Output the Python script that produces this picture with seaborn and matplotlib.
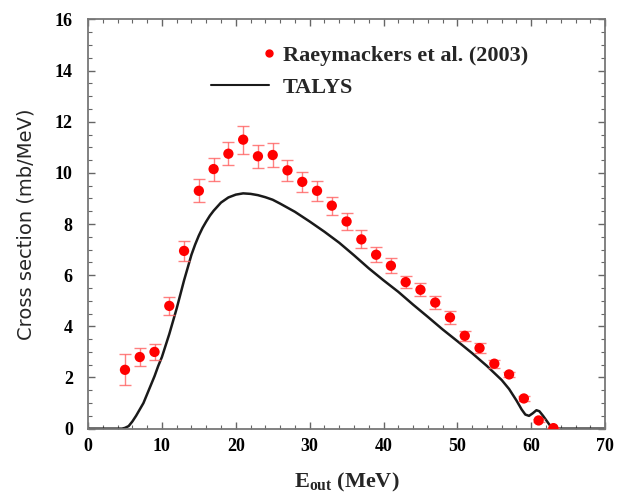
import numpy as np
import pandas as pd
import matplotlib
matplotlib.use("Agg")
import matplotlib.pyplot as plt
import seaborn as sns
from matplotlib.lines import Line2D
from matplotlib.ticker import MultipleLocator

# Experimental data (Raeymackers et al. 2003)
exp_x = [5, 7, 9, 11, 13, 15, 17, 19, 21, 23, 25, 27, 29, 31, 33, 35, 37, 39, 41, 43,
         45, 47, 49, 51, 53, 55, 57, 59, 61, 63]
exp_y = [2.3, 2.8, 3.0, 4.8, 6.95, 9.3, 10.15, 10.75, 11.3, 10.65, 10.7, 10.1, 9.65, 9.3,
         8.72, 8.1, 7.4, 6.8, 6.37, 5.73, 5.43, 4.93, 4.35, 3.63, 3.15, 2.54, 2.12, 1.18, 0.32, 0.02]
exp_err = [0.6, 0.35, 0.3, 0.35, 0.4, 0.45, 0.45, 0.45, 0.55, 0.45, 0.45, 0.4, 0.4, 0.4,
           0.35, 0.35, 0.35, 0.3, 0.3, 0.25, 0.25, 0.25, 0.25, 0.2, 0.2, 0.15, 0.1, 0.1, 0.05, 0.0]

# TALYS calculation
talys_x = [0, 4.6, 5.0, 5.5, 6.0, 6.5, 7.0, 7.5, 8.0, 8.5, 9.0, 9.5, 10.0, 10.5, 11.0, 11.5,
           12.0, 12.5, 13.0, 13.5, 14.0, 14.5, 15.0, 15.5, 16.0, 16.5, 17.0, 18.0, 19.0, 20.0,
           21.0, 22.0, 23.0, 24.0, 25.0, 26.0, 28.0, 30.0, 32.0, 34.0, 36.0, 38.0, 40.0, 42.0,
           44.0, 46.0, 48.0, 50.0, 52.0, 54.0, 56.0, 57.0, 58.0, 58.7, 59.2, 59.7, 60.2, 60.7,
           61.1, 61.6, 62.1, 62.6, 63.0, 70.0]
talys_y = [0, 0, 0.03, 0.1, 0.28, 0.5, 0.75, 1.0, 1.35, 1.7, 2.05, 2.45, 2.8, 3.25, 3.7, 4.2,
           4.7, 5.25, 5.8, 6.3, 6.8, 7.2, 7.55, 7.85, 8.1, 8.33, 8.52, 8.84, 9.04, 9.15,
           9.2, 9.18, 9.13, 9.05, 8.95, 8.8, 8.48, 8.1, 7.7, 7.27, 6.78, 6.27, 5.8, 5.35,
           4.85, 4.37, 3.88, 3.42, 2.95, 2.45, 1.9, 1.55, 1.1, 0.75, 0.55, 0.5, 0.6, 0.72,
           0.68, 0.5, 0.3, 0.1, 0.0, 0.0]

x_ticks = [0, 10, 20, 30, 40, 50, 60, 70]
y_ticks = [0, 2, 4, 6, 8, 10, 12, 14, 16]

sns.set_theme(style="ticks")
plt.rcParams["font.family"] = ["Liberation Serif", "DejaVu Serif"]
plt.rcParams["mathtext.fontset"] = "custom"
plt.rcParams["mathtext.rm"] = "Liberation Serif"
plt.rcParams["mathtext.bf"] = "Liberation Serif:bold"

fig = plt.figure(figsize=(6.2, 4.99), dpi=100)
ax = fig.add_axes([0.142, 0.141, 0.834, 0.82])

df_t = pd.DataFrame({"x": talys_x, "y": talys_y})
df_e = pd.DataFrame({"x": exp_x, "y": exp_y, "e": exp_err})

sns.lineplot(data=df_t, x="x", y="y", ax=ax, color="#1a1a1a", lw=1.8, sort=False,
             estimator=None, label="_nolegend_")
ax.errorbar(df_e["x"], df_e["y"], yerr=df_e["e"], fmt="none", ecolor="#ff6060",
            elinewidth=1.0, capsize=4, capthick=1.0, alpha=0.8, zorder=3)
sns.scatterplot(data=df_e, x="x", y="y", ax=ax, color="red", s=55, edgecolor="none",
                zorder=4, legend=False)

ax.set_xlim(0, 70)
ax.set_ylim(0, 16)
ax.set_xticks(x_ticks)
ax.set_yticks(y_ticks)
ax.xaxis.set_minor_locator(MultipleLocator(2))
ax.yaxis.set_minor_locator(MultipleLocator(0.5))
ax.tick_params(which="both", direction="in", top=True, right=True, color="#666666")
ax.tick_params(which="major", length=5, width=1)
ax.tick_params(which="minor", length=3, width=0.8)
for lab in ax.get_xticklabels() + ax.get_yticklabels():
    lab.set_fontweight("bold")
    lab.set_fontsize(13)
    lab.set_color("black")
ax.tick_params(axis="x", pad=7)
ax.tick_params(axis="y", pad=11)
for sp in ax.spines.values():
    sp.set_color("#777777")
    sp.set_linewidth(1.3)

ax.set_xlabel(r"$\mathbf{E_{out}}$ (MeV)", fontsize=16, fontweight="bold", labelpad=11)
ax.set_ylabel("Cross section (mb/MeV)", fontsize=14, family="DejaVu Sans",
              fontweight="normal", labelpad=14)

handles = [Line2D([], [], color="red", marker="o", ls="none", markersize=5),
           Line2D([], [], color="#1a1a1a", lw=1.5)]
leg = ax.legend(handles, ["Raeymackers et al. (2003)", "TALYS"], loc="upper left",
                bbox_to_anchor=(0.2, 0.985), frameon=False, handlelength=2.6,
                handletextpad=0.6, labelspacing=0.5,
                prop={"family": "Liberation Serif", "weight": "bold", "size": 16})
try:
    leg.legend_handles[0].set_markevery([2])
except Exception:
    pass

fig.savefig("out.png", dpi=100)
